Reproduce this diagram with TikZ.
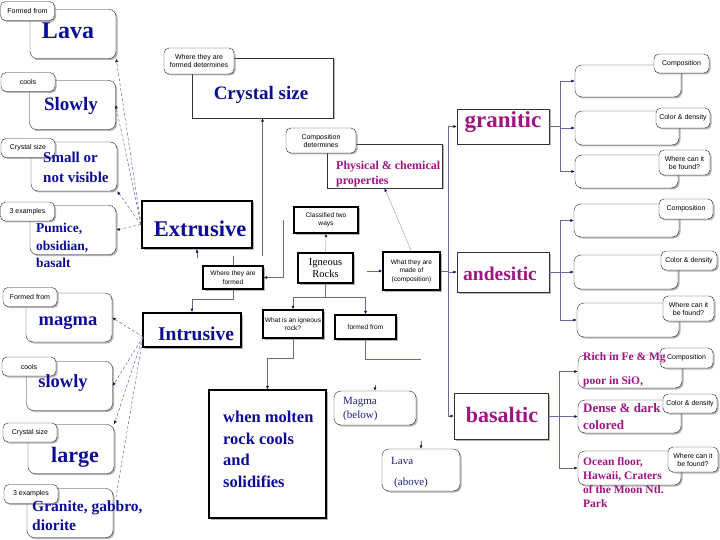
\documentclass[tikz,border=0pt]{standalone}
\usepackage{fontspec}
\setmainfont{Liberation Serif}
\setsansfont{Liberation Sans}
\usetikzlibrary{arrows.meta, shadows, positioning}

\definecolor{txtblue}{RGB}{12,12,150}
\definecolor{txtnavy}{RGB}{30,30,120}
\definecolor{txtmag}{RGB}{160,20,130}
\definecolor{lncol}{RGB}{105,105,150}
\definecolor{tipcol}{RGB}{20,20,90}

\newcommand{\fsz}[2]{\fontsize{#1}{#2}\selectfont}

\tikzset{
  sz/.style 2 args={minimum width=#1pt, minimum height=#2pt},
  shad/.style={drop shadow={shadow xshift=1.5pt, shadow yshift=-1.5pt, fill=black!50, opacity=0.6}},
  rbox/.style={draw=black!85, fill=white, rounded corners=7pt, shad, inner sep=0pt},
  tag/.style={draw=black!85, fill=white, rounded corners=5pt, shad, inner sep=0.5pt,
    align=center, font=\sffamily\fsz{7}{8}},
  sbox/.style={draw=black!80, fill=white, shad, inner sep=0pt},
  kbox/.style={draw=black, line width=1.3pt, fill=white, shad, inner sep=1pt,
    align=center, font=\sffamily\fsz{6.6}{8.4}},
  mbox/.style={draw=black, line width=1.3pt, fill=white, shad, inner sep=0pt},
  bigbox/.style={draw=black, line width=2pt, fill=white, shad, inner sep=0pt},
  bluetxt/.style={text=txtblue, inner sep=0pt},
  magtxt/.style={text=txtmag, inner sep=0pt, anchor=west, align=left},
  link/.style={draw=lncol, line width=0.5pt},
  arr/.style={link, -{Latex[length=3.5pt, width=3pt, color=tipcol]}},
  fan/.style={arr, densely dashed},
}

\begin{document}
\begin{tikzpicture}[x=1pt, y=-1pt]
  \useasboundingbox (0,0) rectangle (720,540);

  % left column
  \foreach \nm/\bx/\by in {lava/73/34, slw/72.5/105, sml/74/166.5, pum/73/230,
                           mag/69/317.5, slo/69.5/386, lrg/71/449, grb/70/513}
    \node[rbox, sz={86}{49}] (\nm) at (\bx,\by) {};

  % middle
  \node[sbox, sz={141}{60}] (crs) at (262.5,88) {};
  \node[sbox, sz={115}{44}] (phy) at (384.5,166) {};
  \node[bigbox, sz={110}{47}] (ext) at (197,224.5) {};
  \node[bigbox, sz={98}{34}] (int) at (192,330) {};
  \node[mbox, sz={117}{128}] (wmt) at (267.5,454) {};
  \node[rbox, sz={82}{34}] (mgb) at (375,408) {};
  \node[rbox, sz={78}{42}] (lvb) at (421,470) {};

  \node[kbox, sz={60}{23}] (wtf) at (233,277.5) {Where they are\\formed};
  \node[kbox, sz={64}{26}] (cls) at (326,220) {Classified two\\ways};
  \node[kbox, sz={55}{30}, font=\fsz{10.5}{12.5}] (ign) at (325.5,268) {Igneous\\Rocks};
  \node[kbox, sz={57}{38}] (wmo) at (411.5,271) {What they are\\made of\\(composition)};
  \node[kbox, sz={60}{28}] (wis) at (293,324) {What is an igneous\\rock?};
  \node[kbox, sz={61}{24}] (ffr) at (365.5,327) {formed from};

  % right
  \node[sbox, sz={92}{35}] (grn) at (503,126.5) {};
  \node[sbox, sz={92}{40}] (ands) at (503,272) {};
  \node[sbox, sz={94}{46}] (bas) at (501,416) {};
  \foreach \nm/\bx/\by/\bw/\bh in {g1/628/81/106/32, g2/627/128/104/34, g3/626.5/171.5/103/33,
                                   a1/626.5/220.5/105/33, a2/626/272/104/34, a3/628/320/102/34,
                                   b1/630/371.5/104/33, b2/629.5/416.5/103/33, b3/629.5/468/103/34}
    \node[rbox, sz={\bw}{\bh}] (\nm) at (\bx,\by) {};

  % connectors, left fans
  \coordinate (intf) at (143,337);
  \coordinate (grbf) at (116,497);
  \foreach \t in {lava.south east, slw.east, sml.south east, pum.east}
    \draw[fan] (ext.west) -- (\t);
  \foreach \t in {mag.east, slo.east, lrg.north east}
    \draw[fan] (intf) -- (\t);
  \draw[link, densely dashed] (intf) -- (grbf);

  % connectors, middle
  \coordinate (csb) at (262.5,256);
  \coordinate (exs) at (197,258);
  \coordinate (wtr) at (283,220);
  \coordinate (igr) at (367,271);
  \draw[arr] (csb) -- (crs.south);
  \draw[link] (wtf.north) -- ++(0,-9);
  \draw[arr] (exs) -- (ext.south);
  \draw[arr] (wtf.south) -- ++(0,10) -| (int.north);
  \draw[arr] (wtr) |- (wtf.east);
  \draw[arr, draw=gray!60] (ign.north) -- (cls.south);
  \draw[arr] (igr) -- (wmo.west);
  \draw[link] (ign.south) -- ++(0,14) coordinate (igb);
  \draw[arr] (igb) -| (wis.north);
  \draw[arr] (igb) -| (ffr.north);
  \draw[arr] (wis.south) -- ++(0,20) -| (wmt.north);
  \draw[link] (ffr.south) -- ++(0,20) coordinate (ffb);
  \draw[link] (ffb) -- (ffb -| lvb.north);
  \draw[arr] ([yshift=6pt]mgb.north) -- (mgb.north);
  \draw[arr] ([yshift=8pt]lvb.north) -- (lvb.north);
  \draw[arr, draw=gray!70] (wmo.north) -- (phy.south);

  % connectors, right
  \coordinate (trk) at (448,271);
  \draw[link] (wmo.east) -- (trk);
  \draw[link] (trk |- grn.west) -- (trk |- bas.west);
  \foreach \t in {grn, ands, bas}
    \draw[arr] (trk |- \t.west) -- (\t.west);
  \foreach \src/\gp in {grn/g, ands/a, bas/b} {
    \path (\src.east) ++(11,0) coordinate (\gp j);
    \draw[link] (\src.east) -- (\gp j);
    \draw[link] (\gp j |- \gp 1.west) -- (\gp j |- \gp 3.west);
    \foreach \k in {1,2,3}
      \draw[arr] (\gp j |- \gp\k.west) -- (\gp\k.west);
  }

  % tags
  \foreach \tx/\ty/\tagtext [count=\i] in {27.5/11/Formed from, 28/82/cools, 28/148/Crystal size,
      27.5/211.5/3 examples, 30/297/Formed from, 29/366.5/cools, 30/432.5/Crystal size, 31/494/3 examples}
    \node[tag, sz={54}{19}] (lt\i) at (\tx,\ty) {\tagtext};
  \node[tag, sz={70}{26}] (tcrs) at (199,61) {Where they are\\formed determines};
  \node[tag, sz={70}{25}] (tphy) at (321,140.5) {Composition\\determines};
  \foreach \tx/\ty/\tw/\th/\tagtext [count=\i] in {
      681.5/63.5/55/19/Composition, 683/118/54/20/Color \& density, 684.5/162.5/51/25/{Where can it\\be found?},
      686/209/54/20/Composition, 689/260.5/56/19/Color \& density, 688.5/308.5/51/25/{Where can it\\be found?},
      686.5/358/53/20/Composition, 690/403.5/54/19/Color \& density, 693/459.5/50/25/{Where can it\\be found?}}
    \node[tag, sz={\tw}{\th}] (rt\i) at (\tx,\ty) {\tagtext};

  % texts
  \node[bluetxt, font=\bfseries\fsz{24}{26}] (xlava) at (68,31) {Lava};
  \node[bluetxt, font=\bfseries\fsz{19}{21}] (xslw) at (71,106) {Slowly};
  \node[bluetxt, font=\bfseries\fsz{15}{20}, anchor=west, align=left] (xsml) at (43,167) {Small or\\not visible};
  \node[bluetxt, font=\bfseries\fsz{13.5}{17.5}, anchor=west, align=left] (xpum) at (36,245.5) {Pumice,\\obsidian,\\basalt};
  \node[bluetxt, font=\bfseries\fsz{18.5}{20}] (xmag) at (68,323) {magma};
  \node[bluetxt, font=\bfseries\fsz{18.5}{20}] (xslo) at (63,383) {slowly};
  \node[bluetxt, font=\bfseries\fsz{22}{24}] (xlrg) at (75,457) {large};
  \node[bluetxt, font=\bfseries\fsz{15.5}{18.5}, anchor=west, align=left] (xgrb) at (32,515.5) {Granite, gabbro,\\diorite};

  \node[bluetxt, font=\bfseries\fsz{19}{21}] (xcrs) at (261,95) {Crystal size};
  \node[bluetxt, font=\bfseries\fsz{22.5}{24}] (xext) at (200,229) {Extrusive};
  \node[bluetxt, font=\bfseries\fsz{19.5}{21}] (xint) at (196,334) {Intrusive};
  \node[bluetxt, font=\bfseries\fsz{16.5}{21.5}, anchor=west, align=left] (xwmt) at (223,449.5) {when molten\\rock cools\\and\\solidifies};
  \node[magtxt, font=\bfseries\fsz{12}{15}] (xphy) at (336,174.5) {Physical \& chemical\\properties};
  \node[text=txtnavy, font=\fsz{11}{14}, anchor=west, align=left, inner sep=0pt] (xmgb) at (343,409) {Magma\\(below)};
  \node[text=txtnavy, font=\fsz{11}{14}, anchor=west, inner sep=0pt] (xlvb) at (391,461) {Lava};
  \node[text=txtnavy, font=\fsz{11}{14}, anchor=west, inner sep=0pt] (xabv) at (394,483) {(above)};

  \node[text=txtmag, inner sep=0pt, font=\bfseries\fsz{23}{25}] (xgrn) at (503,122) {granitic};
  \node[text=txtmag, inner sep=0pt, font=\bfseries\fsz{19.5}{21}] (xand) at (500,274) {andesitic};
  \node[text=txtmag, inner sep=0pt, font=\bfseries\fsz{22}{24}] (xbas) at (502,415) {basaltic};
  \node[magtxt, font=\bfseries\fsz{11.5}{14}] (xb1) at (583,358) {Rich in Fe \& Mg};
  \node[magtxt, font=\bfseries\fsz{11.5}{14}] (xb1b) at (583,382) {poor in SiO,};
  \node[magtxt, font=\bfseries\fsz{13}{17}] (xb2) at (583,416.5) {Dense \& dark\\colored};
  \node[magtxt, font=\bfseries\fsz{11.5}{14}] (xb3) at (583,482.5) {Ocean floor,\\Hawaii, Craters\\of the Moon Ntl.\\Park};
\end{tikzpicture}
\end{document}
